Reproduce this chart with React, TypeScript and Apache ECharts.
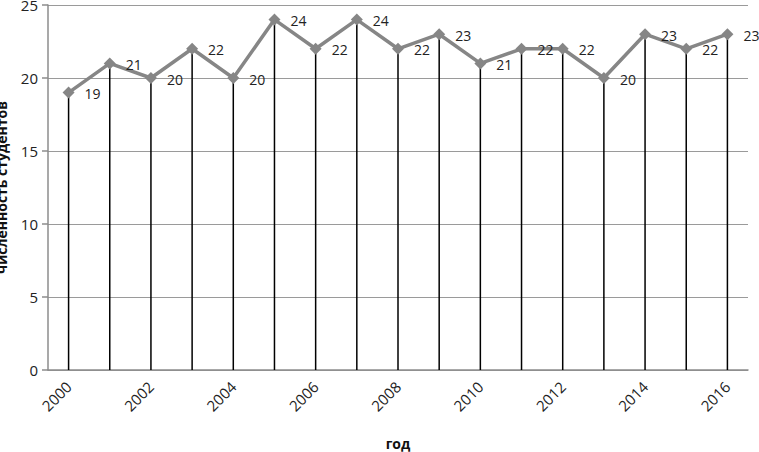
import React, { useEffect, useRef } from "react";
import * as echarts from "echarts";

const years = ["2000","2001","2002","2003","2004","2005","2006","2007","2008","2009","2010","2011","2012","2013","2014","2015","2016"];
const students = [19, 21, 20, 22, 20, 24, 22, 24, 22, 23, 21, 22, 22, 20, 23, 22, 23];
const yTicks = { min: 0, max: 25, interval: 5 };

export default function App() {
  const ref = useRef<HTMLDivElement>(null);
  useEffect(() => {
    const chart = echarts.init(ref.current!, null, { renderer: "svg" });
    const font = "'Open Sans', 'Noto Sans', sans-serif";
    chart.setOption({
      animation: false,
      grid: { left: 48, right: 11, top: 5, bottom: 82, containLabel: false, outerBoundsMode: "none" },
      xAxis: {
        type: "category",
        data: years,
        boundaryGap: true,
        name: "год",
        nameLocation: "middle",
        nameGap: 66,
        nameTextStyle: { fontFamily: font, fontWeight: "bold", fontSize: 14, color: "#111" },
        axisLine: { lineStyle: { color: "#8c8c8c", width: 1.5 } },
        axisTick: { show: false },
        axisLabel: { interval: 1, rotate: 45, fontFamily: font, fontSize: 15, color: "#222", margin: 14 },
        splitLine: { show: false },
      },
      yAxis: {
        type: "value",
        min: yTicks.min,
        max: yTicks.max,
        interval: yTicks.interval,
        name: "численность студентов",
        nameLocation: "middle",
        nameGap: 40,
        nameTextStyle: { fontFamily: font, fontWeight: "bold", fontSize: 14, color: "#111" },
        axisLine: { show: true, lineStyle: { color: "#8c8c8c", width: 1.5 } },
        axisTick: { show: true, length: 6, lineStyle: { color: "#8c8c8c", width: 1.5 } },
        axisLabel: { fontFamily: font, fontSize: 15, color: "#222", margin: 10 },
        splitLine: { lineStyle: { color: "#9a9a9a", width: 1.2 } },
      },
      series: [
        {
          type: "bar",
          data: students,
          barWidth: 1.5,
          itemStyle: { color: "#000" },
          z: 1,
          silent: true,
        },
        {
          type: "line",
          data: students,
          symbol: "diamond",
          symbolSize: 12,
          lineStyle: { color: "#868686", width: 3.5 },
          itemStyle: { color: "#868686" },
          z: 3,
          label: {
            show: true,
            position: "right",
            distance: 10,
            offset: [0, 1],
            fontFamily: font,
            fontSize: 14,
            color: "#222",
          },
        },
      ],
    });
    return () => chart.dispose();
  }, []);
  return <div ref={ref} style={{ width: 759, height: 452, position: "absolute", left: 0, top: 0 }} />;
}
